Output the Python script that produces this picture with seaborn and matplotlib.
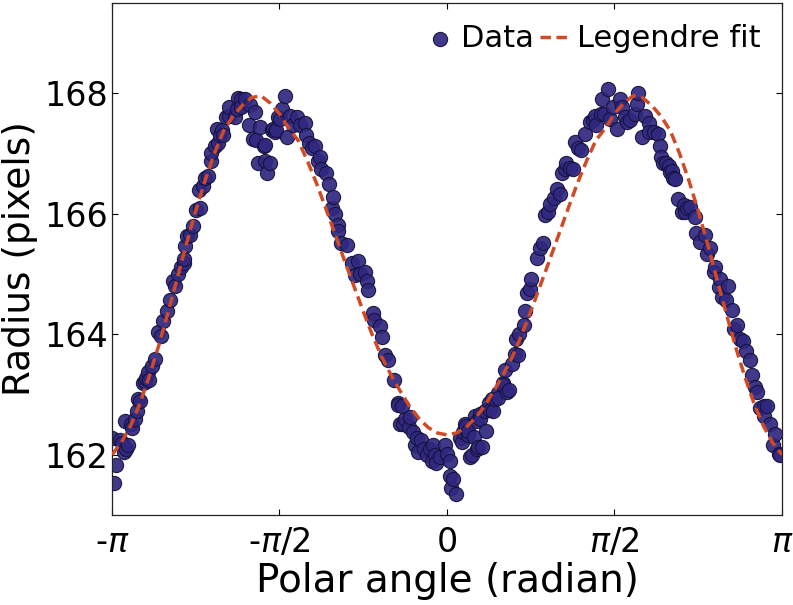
import numpy as np
import matplotlib
matplotlib.use("Agg")
import matplotlib.pyplot as plt
import seaborn as sns

angle = [
    -3.14, -3.12, -3.10, -3.07, -3.05, -3.03, -3.02, -3.01, -2.99, -2.96,
    -2.95, -2.93, -2.91, -2.90, -2.88, -2.85, -2.83, -2.82, -2.80, -2.79,
    -2.77, -2.74, -2.71, -2.68, -2.66, -2.63, -2.60, -2.57, -2.55, -2.52,
    -2.49, -2.47, -2.47, -2.46, -2.44, -2.41, -2.38, -2.35, -2.33, -2.32,
    -2.29, -2.27, -2.24, -2.21, -2.21, -2.18, -2.16, -2.15, -2.13, -2.11,
    -2.10, -2.07, -2.04, -2.04, -1.99, -1.97, -1.96, -1.93, -1.93, -1.89,
    -1.86, -1.85, -1.82, -1.80, -1.79, -1.77, -1.75, -1.72, -1.71, -1.71,
    -1.69, -1.66, -1.64, -1.63, -1.61, -1.60, -1.58, -1.57, -1.55, -1.52,
    -1.50, -1.47, -1.44, -1.41, -1.38, -1.33, -1.32, -1.29, -1.27, -1.24,
    -1.21, -1.19, -1.18, -1.13, -1.11, -1.08, -1.07, -1.05, -1.02, -1.02,
    -0.99, -0.94, -0.89, -0.86, -0.83, -0.82, -0.77, -0.75, -0.74, -0.69,
    -0.68, -0.63, -0.61, -0.58, -0.55, -0.50, -0.46, -0.46, -0.44, -0.42,
    -0.41, -0.39, -0.36, -0.35, -0.32, -0.30, -0.28, -0.27, -0.24, -0.22,
    -0.19, -0.16, -0.14, -0.13, -0.11, -0.10, -0.07, -0.02, 0.00, 0.03,
    0.03, 0.04, 0.06, 0.08, 0.12, 0.14, 0.15, 0.17, 0.18, 0.20,
    0.20, 0.22, 0.23, 0.25, 0.26, 0.28, 0.28, 0.29, 0.31, 0.31,
    0.33, 0.36, 0.37, 0.39, 0.40, 0.42, 0.43, 0.45, 0.48, 0.48,
    0.53, 0.53, 0.54, 0.56, 0.58, 0.61, 0.64, 0.65, 0.67, 0.68,
    0.72, 0.73, 0.75, 0.78, 0.79, 0.84, 0.87, 0.90, 0.92, 0.95,
    0.97, 1.00, 1.03, 1.06, 1.08, 1.11, 1.12, 1.15, 1.18, 1.20,
    1.23, 1.26, 1.29, 1.34, 1.37, 1.39, 1.40, 1.44, 1.45, 1.47,
    1.51, 1.53, 1.56, 1.59, 1.62, 1.64, 1.67, 1.69, 1.72, 1.76,
    1.78, 1.79, 1.83, 1.86, 1.89, 1.89, 1.94, 1.98, 2.00, 2.01,
    2.03, 2.05, 2.08, 2.09, 2.11, 2.12, 2.14, 2.17, 2.20, 2.22,
    2.23, 2.25, 2.28, 2.33, 2.34, 2.37, 2.42, 2.44, 2.47, 2.50,
    2.51, 2.55, 2.56, 2.58, 2.62, 2.64, 2.67, 2.69, 2.72, 2.75,
    2.78, 2.80, 2.84, 2.86, 2.89, 2.91, 2.94, 2.97, 2.97, 3.00,
    3.03, 3.06, 3.08, 3.11, 3.12,
]
radius = [
    162.28, 161.53, 161.83, 162.24, 162.20, 162.05, 162.56, 162.10, 162.16, 162.51,
    162.44, 162.59, 162.73, 162.92, 162.89, 163.19, 163.21, 163.27, 163.38, 163.24,
    163.48, 163.59, 164.03, 163.97, 164.22, 164.38, 164.57, 164.89, 164.81, 165.00,
    165.11, 165.19, 165.25, 165.46, 165.63, 165.65, 165.79, 166.06, 166.39, 166.09,
    166.47, 166.60, 166.63, 166.87, 167.01, 167.12, 167.41, 167.17, 167.31, 167.39,
    167.31, 167.60, 167.63, 167.77, 167.60, 167.74, 167.93, 167.90, 167.77, 167.90,
    167.47, 167.80, 167.25, 167.69, 167.22, 166.85, 167.44, 167.12, 166.87, 167.15,
    166.68, 166.85, 167.39, 167.41, 167.36, 167.39, 167.60, 167.58, 167.74, 167.96,
    167.28, 167.63, 167.47, 167.60, 167.47, 167.50, 167.31, 167.17, 167.09, 167.12,
    166.87, 166.95, 166.74, 166.68, 166.49, 166.09, 166.28, 166.00, 165.82, 165.71,
    165.52, 165.49, 165.19, 164.98, 165.22, 165.00, 165.03, 164.89, 164.73, 164.35,
    164.24, 164.13, 163.95, 163.65, 163.57, 163.24, 162.86, 162.83, 162.51, 162.81,
    162.51, 162.59, 162.46, 162.62, 162.37, 162.16, 162.27, 162.05, 162.24, 162.10,
    162.00, 162.10, 161.89, 162.16, 162.00, 161.86, 161.97, 162.16, 162.02, 161.89,
    161.64, 161.45, 161.59, 161.34, 162.27, 162.21, 162.37, 162.51, 162.48, 162.32,
    162.40, 161.97, 162.00, 162.29, 162.65, 162.10, 162.56, 162.13, 162.67, 162.59,
    162.13, 162.73, 162.40, 162.86, 162.75, 162.92, 162.73, 162.92, 163.02, 162.94,
    163.19, 163.16, 163.40, 163.05, 163.08, 163.51, 163.67, 163.92, 163.65, 164.00,
    164.16, 164.38, 164.68, 164.76, 164.92, 165.27, 165.44, 165.52, 165.98, 166.03,
    166.17, 166.26, 166.42, 166.33, 166.68, 166.74, 166.85, 166.76, 166.74, 167.20,
    167.09, 167.06, 167.33, 167.52, 167.55, 167.63, 167.47, 167.66, 167.90, 167.66,
    168.07, 167.58, 167.77, 167.41, 167.90, 167.77, 167.60, 167.52, 167.55, 167.66,
    167.82, 168.01, 167.28, 167.63, 167.50, 167.36, 167.36, 167.33, 167.12, 166.95,
    166.85, 166.85, 166.79, 166.70, 166.71, 166.60, 166.57, 166.25, 166.03, 166.14,
    166.03, 166.09, 166.11, 165.95, 165.68, 165.54, 165.65, 165.33, 165.44, 165.03,
    165.11, 164.79, 164.92, 164.62, 164.57, 164.81, 164.41, 164.08, 164.16, 163.92,
    163.89, 163.73, 163.57, 163.32, 163.13, 163.05, 162.78, 162.81, 162.65, 162.81,
    162.51, 162.16, 162.35, 162.02, 162.00,
]

# Legendre fit curve, sampled every 5 degrees
fit_deg = [
    -180, -175, -170, -165, -160, -155, -150, -145, -140, -135, -130, -125,
    -120, -115, -110, -105, -100, -95, -90, -85, -80, -75, -70, -65,
    -60, -55, -50, -45, -40, -35, -30, -25, -20, -15, -10, -5,
    0, 5, 10, 15, 20, 25, 30, 35, 40, 45, 50, 55,
    60, 65, 70, 75, 80, 85, 90, 95, 100, 105, 110, 115,
    120, 125, 130, 135, 140, 145, 150, 155, 160, 165, 170, 175, 180,
]
fit_radius = [
    162.00, 162.20, 162.48, 162.85, 163.30, 163.80, 164.35, 164.92, 165.50, 166.05, 166.55, 167.00,
    167.38, 167.62, 167.80, 167.93, 167.96, 167.84, 167.66, 167.42, 167.22, 166.88, 166.50, 166.08,
    165.65, 165.22, 164.80, 164.38, 163.98, 163.62, 163.32, 163.05, 162.80, 162.60, 162.45, 162.36,
    162.33, 162.36, 162.45, 162.60, 162.80, 163.05, 163.32, 163.62, 163.98, 164.38, 164.80, 165.22,
    165.65, 166.08, 166.50, 166.88, 167.22, 167.42, 167.66, 167.84, 167.96, 167.93, 167.80, 167.62,
    167.38, 167.00, 166.55, 166.05, 165.50, 164.92, 164.35, 163.80, 163.30, 162.85, 162.48, 162.20, 162.00,
]
fit_angle = np.deg2rad(fit_deg)

tick_pos = [-np.pi, -np.pi / 2, 0, np.pi / 2, np.pi]
tick_labels = [r'-$\pi$', r'-$\pi/2$', '0', r'$\pi/2$', r'$\pi$']

sns.set_style("ticks", {"xtick.direction": "in", "ytick.direction": "in",
                        "text.color": "black", "axes.labelcolor": "black",
                        "xtick.color": "black", "ytick.color": "black",
                        "axes.edgecolor": "#222222"})
plt.rcParams['font.family'] = ['DejaVu Sans']
plt.rcParams['mathtext.fontset'] = 'dejavusans'

fig, ax = plt.subplots(figsize=(7.93, 6.05), dpi=100)
fig.subplots_adjust(left=0.1412, right=0.9861, bottom=0.1488, top=0.995)

sns.scatterplot(x=angle, y=radius, ax=ax, color='#30287f', edgecolor='#15113a',
                linewidth=0.8, s=105, alpha=0.92, label='Data', zorder=2)
ax.plot(fit_angle, fit_radius, color='#cf4a26', lw=2.5,
        linestyle=(0, (3, 1.6)), label='Legendre fit', zorder=3)

ax.set_xlim(-np.pi, np.pi)
ax.set_ylim(161, 169.5)
ax.set_xticks(tick_pos)
ax.set_xticklabels(tick_labels)
ax.set_yticks([162, 164, 166, 168])
ax.tick_params(axis='both', which='major', labelsize=24, direction='in',
               length=4.5, width=0.8, top=True, right=True)
ax.tick_params(axis='y', pad=3)
ax.tick_params(axis='x', pad=8)
for sp in ax.spines.values():
    sp.set_visible(True)
    sp.set_linewidth(0.9)

ax.set_xlabel('Polar angle (radian)', fontsize=28, labelpad=2)
ax.set_ylabel('Radius (pixels)', fontsize=27, labelpad=4)

ax.legend(loc='upper right', ncol=2, frameon=False, fontsize=22,
          scatterpoints=1, handlelength=1.0, handletextpad=0.2,
          columnspacing=0.2, borderaxespad=0.3)

fig.savefig('out.png', dpi=100)
